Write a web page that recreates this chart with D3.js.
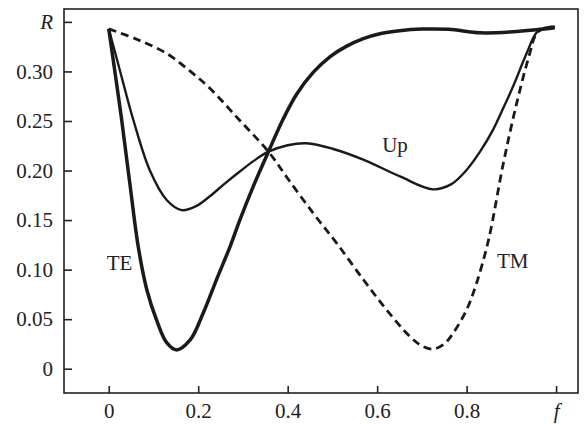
<!DOCTYPE html>
<html>
<head>
<meta charset="utf-8">
<script src="https://cdn.jsdelivr.net/npm/d3@7"></script>
<style>
  body { margin: 0; background: #fff; }
  text { font-family: "Liberation Serif", "Times New Roman", serif; fill: #222; }
</style>
</head>
<body>
<div class="chart"></div>
<script>
(function() {
var W = 585, H = 424,
    margin = {top: 9, right: 7, bottom: 31, left: 64},
    width = W - margin.left - margin.right,
    height = H - margin.top - margin.bottom;

// reflectance vs f
const teF = [0, 0.029, 0.048, 0.066, 0.085, 0.107, 0.13, 0.152, 0.182, 0.211, 0.241, 0.271, 0.293, 0.325, 0.357, 0.39, 0.42, 0.457, 0.495, 0.53, 0.569, 0.606, 0.65, 0.70, 0.76, 0.83, 0.904, 0.956, 0.997];
const teR = [0.343, 0.251, 0.184, 0.123, 0.080, 0.049, 0.026, 0.019, 0.029, 0.056, 0.090, 0.123, 0.150, 0.186, 0.219, 0.252, 0.277, 0.299, 0.315, 0.325, 0.333, 0.338, 0.341, 0.3427, 0.3425, 0.339, 0.340, 0.342, 0.344];

const upF = [0, 0.025, 0.055, 0.092, 0.13, 0.163, 0.195, 0.226, 0.26, 0.293, 0.325, 0.357, 0.40, 0.442, 0.50, 0.569, 0.651, 0.725, 0.765, 0.80, 0.83, 0.859, 0.882, 0.904, 0.934, 0.956, 0.975, 0.997];
const upR = [0.343, 0.301, 0.251, 0.200, 0.170, 0.160, 0.164, 0.174, 0.187, 0.199, 0.210, 0.219, 0.2255, 0.2275, 0.222, 0.211, 0.194, 0.181, 0.186, 0.2006, 0.219, 0.241, 0.263, 0.285, 0.318, 0.339, 0.344, 0.345];

const tmF = [0, 0.065, 0.13, 0.18, 0.226, 0.29, 0.357, 0.40, 0.457, 0.509, 0.569, 0.621, 0.673, 0.70, 0.725, 0.75, 0.77, 0.80, 0.822, 0.849, 0.882, 0.912, 0.941, 0.956, 0.975, 0.997];
const tmR = [0.343, 0.332, 0.318, 0.301, 0.283, 0.252, 0.219, 0.192, 0.157, 0.127, 0.090, 0.0595, 0.0326, 0.023, 0.0198, 0.025, 0.036, 0.0595, 0.086, 0.130, 0.207, 0.268, 0.318, 0.338, 0.344, 0.345];

const xTicks = [0, 0.2, 0.4, 0.6, 0.8, 1.0];
const xTickLabels = ["0", "0.2", "0.4", "0.6", "0.8", "f"];
const yTicks = [0, 0.05, 0.10, 0.15, 0.20, 0.25, 0.30, 0.35];
const yTickLabels = ["0", "0.05", "0.10", "0.15", "0.20", "0.25", "0.30", "R"];

const curveLabels = [
  {text: "TE", f: 0.024, r: 0.1},
  {text: "Up", f: 0.64, r: 0.219},
  {text: "TM", f: 0.903, r: 0.102}
];

var svg = d3.select(".chart").append("svg")
    .attr("width", W).attr("height", H);

var x = d3.scaleLinear().domain([-0.1, 1.049]).range([0, width]);
var y = d3.scaleLinear().domain([-0.0245, 0.363]).range([height, 0]);

var g = svg.append("g")
    .attr("transform", "translate(" + margin.left + "," + margin.top + ")");

// frame
g.append("rect")
    .attr("width", width).attr("height", height)
    .attr("fill", "none").attr("stroke", "#222").attr("stroke-width", 1.6);

var xAxis = d3.axisBottom(x).tickValues(xTicks)
    .tickSize(-7).tickPadding(10)
    .tickFormat((d, i) => xTickLabels[i]);
var yAxis = d3.axisLeft(y).tickValues(yTicks)
    .tickSize(-8).tickPadding(11)
    .tickFormat((d, i) => yTickLabels[i]);

var gx = g.append("g")
    .attr("transform", "translate(0," + height + ")")
    .call(xAxis);
var gy = g.append("g").call(yAxis);

[gx, gy].forEach(function(a) {
  a.select(".domain").remove();
  a.selectAll(".tick line").attr("stroke", "#222").attr("stroke-width", 1.6);
  a.selectAll(".tick text")
      .attr("font-size", 21).attr("fill", "#222");
});
gx.selectAll(".tick text").filter((d, i) => xTickLabels[i] === "f").attr("font-style", "italic");
gy.selectAll(".tick text").filter((d, i) => yTickLabels[i] === "R").attr("font-style", "italic");

var line = d3.line()
    .x((d) => x(d[0]))
    .y((d) => y(d[1]))
    .curve(d3.curveCatmullRom.alpha(0.5));

const series = [
  {f: teF, r: teR, w: 3.5, dash: null},
  {f: upF, r: upR, w: 2.4, dash: null},
  {f: tmF, r: tmR, w: 2.8, dash: "8,5"}
];

g.selectAll(".curve")
    .data(series)
    .enter().append("path")
    .attr("class", "curve")
    .attr("d", (s) => line(s.f.map((v, i) => [v, s.r[i]])))
    .attr("fill", "none")
    .attr("stroke", "#1a1a1a")
    .attr("stroke-width", (s) => s.w)
    .attr("stroke-dasharray", (s) => s.dash)
    .attr("stroke-linejoin", "round");

g.selectAll(".lbl")
    .data(curveLabels)
    .enter().append("text")
    .attr("class", "lbl")
    .attr("x", (d) => x(d.f))
    .attr("y", (d) => y(d.r))
    .attr("text-anchor", "middle")
    .attr("font-size", 21)
    .text((d) => d.text);
}());
</script>
</body>
</html>
